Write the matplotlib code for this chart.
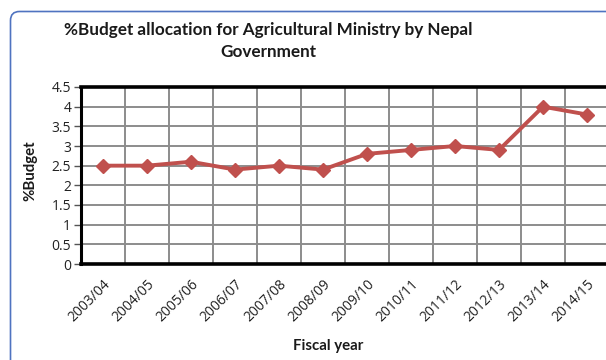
import matplotlib
matplotlib.use("Agg")
import matplotlib.pyplot as plt
from matplotlib.patches import FancyBboxPatch

years = ["2003/04", "2004/05", "2005/06", "2006/07", "2007/08", "2008/09",
         "2009/10", "2010/11", "2011/12", "2012/13", "2013/14", "2014/15"]
budget_pct = [2.5, 2.5, 2.6, 2.4, 2.5, 2.4, 2.8, 2.9, 3.0, 2.9, 4.0, 3.8]
y_ticks = [0, 0.5, 1, 1.5, 2, 2.5, 3, 3.5, 4, 4.5]
y_tick_labels = ["0", "0.5", "1", "1.5", "2", "2.5", "3", "3.5", "4", "4.5"]

W, H = 606, 360
DPI = 100
plt.rcParams["font.family"] = ["Lato", "DejaVu Sans"]

fig = plt.figure(figsize=(W / DPI, H / DPI), dpi=DPI)
fig.patch.set_facecolor("white")

# rounded chart-area border (inches), running off the right and bottom edges
frame = FancyBboxPatch((10.5 / DPI, -1.0), 10.0, (H - 11.5) / DPI + 1.0,
                       boxstyle="round,pad=0,rounding_size=0.09",
                       transform=fig.dpi_scale_trans, facecolor="none",
                       edgecolor="#4f73c0", linewidth=1.2, zorder=0)
fig.patches.append(frame)

left, right, top, bottom = 81, 609, 87, 264
ax = fig.add_axes([left / W, 1 - bottom / H, (right - left) / W, (bottom - top) / H])

n = len(years)
x = list(range(n))
ax.plot(x, budget_pct, color="#c0504d", linewidth=2.8, marker="D",
        markersize=7.5, markerfacecolor="#c0504d", markeredgecolor="#c0504d",
        zorder=5, clip_on=False)

ax.set_xlim(-0.5, n - 0.5)
ax.set_ylim(0, 4.5)

# category boundaries for vertical grid lines
for b in range(1, n):
    ax.axvline(b - 0.5, color="#8c8c8c", linewidth=1.4, zorder=1)
for yv in y_ticks[1:-1]:
    ax.axhline(yv, color="#8c8c8c", linewidth=1.4, zorder=1)

tick_font = dict(family=["Open Sans", "DejaVu Sans"], size=10, color="#222222")

ax.set_yticks(y_ticks)
ax.set_yticklabels(y_tick_labels, **tick_font)
ax.tick_params(axis="y", length=5, width=1, color="#555555", pad=2)

ax.set_xticks(x)
ax.set_xticklabels(years, rotation=45, ha="right", rotation_mode="anchor", **tick_font)
ax.tick_params(axis="x", length=0, pad=9)

for side in ["left", "top", "bottom"]:
    ax.spines[side].set_color("black")
ax.spines["left"].set_linewidth(2.2)
ax.spines["top"].set_linewidth(2.6)
ax.spines["bottom"].set_linewidth(2.6)
ax.spines["right"].set_visible(False)

fig.text(268 / W, 1 - 30 / H, "%Budget allocation for Agricultural Ministry by Nepal",
         ha="center", va="center", fontsize=12.3, fontweight="bold", color="#1a1a1a")
fig.text(268 / W, 1 - 52 / H, "Government",
         ha="center", va="center", fontsize=12.3, fontweight="bold", color="#1a1a1a")

fig.text(328 / W, 1 - 346 / H, "Fiscal year", ha="center", va="center",
         fontsize=10.8, fontweight="bold", color="#1a1a1a")
fig.text(30 / W, 1 - 171 / H, "%Budget", ha="center", va="center", rotation=90,
         fontsize=10.8, fontweight="bold", color="#1a1a1a")

fig.savefig("out.png", dpi=DPI, facecolor="white")
